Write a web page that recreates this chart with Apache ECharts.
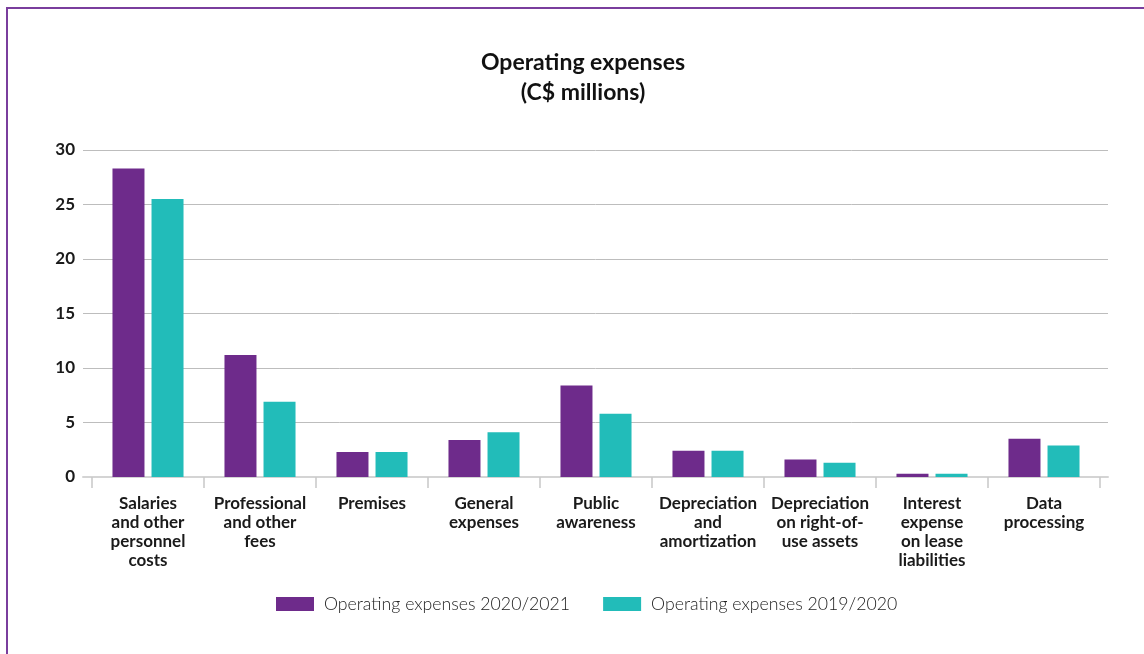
<!DOCTYPE html>
<html>
<head>
<meta charset="utf-8">
<script src="https://cdn.jsdelivr.net/npm/echarts@6/dist/echarts.min.js"></script>
<style>
html,body{margin:0;padding:0;background:#fff;}
#frame{position:absolute;left:6px;top:7px;width:1200px;height:700px;border-top:2px solid #7a3e9d;border-left:2px solid #7a3e9d;}
#chart{position:absolute;left:0;top:0;width:1144px;height:654px;}
</style>
</head>
<body>
<div id="frame"></div>
<div id="chart"></div>
<script>
const categories = [
  "Salaries\nand other\npersonnel\ncosts",
  "Professional\nand other\nfees",
  "Premises",
  "General\nexpenses",
  "Public\nawareness",
  "Depreciation\nand\namortization",
  "Depreciation\non right-of-\nuse assets",
  "Interest\nexpense\non lease\nliabilities",
  "Data\nprocessing"
];
const seriesNames = ["Operating expenses 2020/2021", "Operating expenses 2019/2020"];
const values2021 = [28.3, 11.2, 2.3, 3.4, 8.4, 2.4, 1.6, 0.3, 3.5];
const values2020 = [25.5, 6.9, 2.3, 4.1, 5.8, 2.4, 1.3, 0.3, 2.9];
const yTicks = { min: 0, max: 30, interval: 5 };

const chart = echarts.init(document.getElementById('chart'));
const FONT = 'Lato';
chart.setOption({
  animation: false,
  title: {
    text: 'Operating expenses\n(C$ millions)',
    left: 578, top: 43, textAlign: 'center',
    textStyle: { fontFamily: FONT, fontSize: 23, fontWeight: 'bold', color: '#111', lineHeight: 30 }
  },
  legend: {
    bottom: 36, left: 271, itemWidth: 38, itemHeight: 14, itemGap: 33,
    icon: 'rect',
    textStyle: { fontFamily: FONT, fontSize: 17.7, fontWeight: 300, color: '#222', padding: [0, 0, 0, 5] },
    data: seriesNames
  },
  grid: [
    { left: 83, right: 36, top: 150, bottom: 177 },
    { left: 92, right: 44, top: 150, bottom: 177 }
  ],
  xAxis: [
    { gridIndex: 0, type: 'value', min: 0, max: 1,
      axisLine: { show: true, lineStyle: { color: '#d4d4d4', width: 2 } },
      axisTick: { show: false }, axisLabel: { show: false }, splitLine: { show: false } },
    { gridIndex: 1, type: 'category', data: categories,
      axisLine: { show: false },
      axisTick: { show: true, length: 11, interval: 0, lineStyle: { color: '#c8c8c8', width: 1.5 } },
      axisLabel: { interval: 0, margin: 17, fontFamily: FONT, fontSize: 17, fontWeight: 'bold', color: '#1a1a1a', lineHeight: 19, verticalAlign: 'top' } }
  ],
  yAxis: [
    { gridIndex: 0, type: 'value', min: yTicks.min, max: yTicks.max, interval: yTicks.interval,
      axisLine: { show: false }, axisTick: { show: false },
      axisLabel: { margin: 8, fontFamily: FONT, fontSize: 17, fontWeight: 'bold', color: '#1a1a1a' },
      splitLine: { lineStyle: { color: '#bdbdbd', width: 1 } } },
    { gridIndex: 1, type: 'value', min: yTicks.min, max: yTicks.max, interval: yTicks.interval,
      show: false, splitLine: { show: false } }
  ],
  series: [
    { name: seriesNames[0], type: 'bar', xAxisIndex: 1, yAxisIndex: 1, data: values2021,
      barWidth: 32, barGap: '22%', itemStyle: { color: '#6e2b8b' } },
    { name: seriesNames[1], type: 'bar', xAxisIndex: 1, yAxisIndex: 1, data: values2020,
      barWidth: 32, barGap: '22%', itemStyle: { color: '#22bcb9' } }
  ]
});
</script>
</body>
</html>
